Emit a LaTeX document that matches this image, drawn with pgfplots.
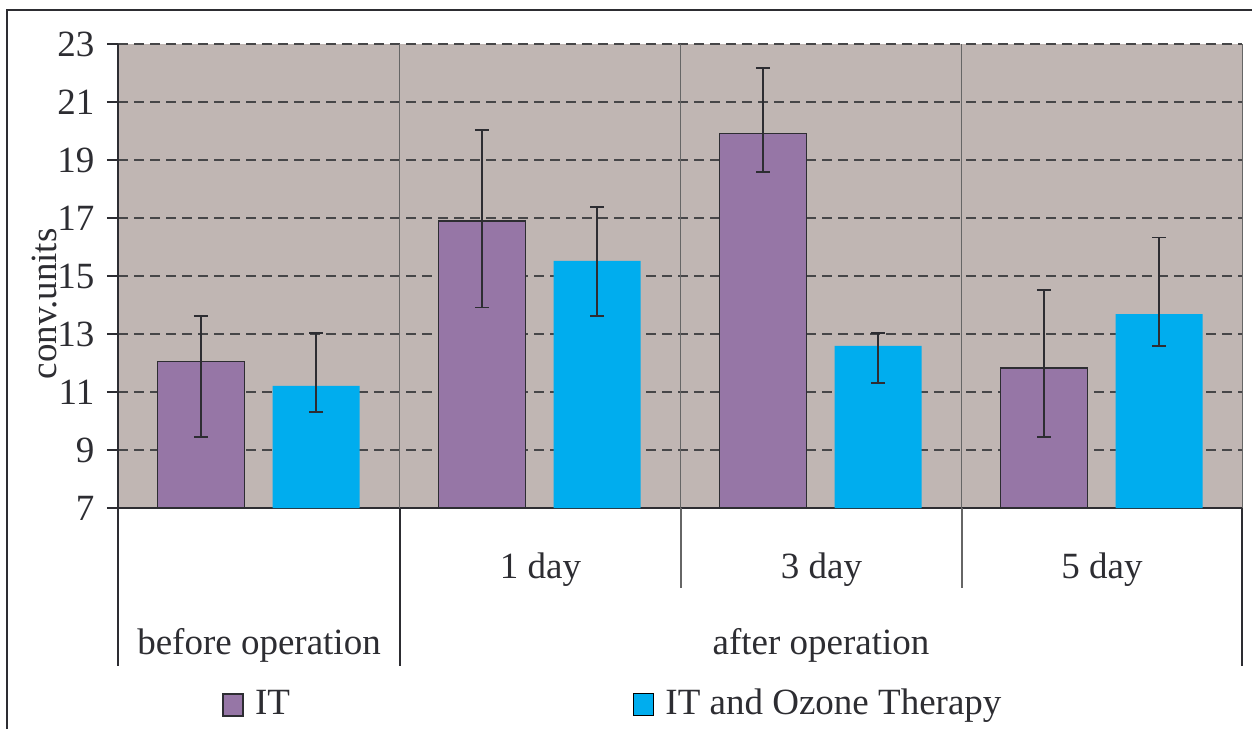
\documentclass[border=0pt]{standalone}
\usepackage{pgfplots}
\pgfplotsset{compat=1.18}
\usepackage{fontspec}
\setmainfont{Liberation Serif}
\definecolor{bgc}{RGB}{192,182,179}
\definecolor{itc}{RGB}{150,118,166}
\definecolor{ozc}{RGB}{0,173,238}
\definecolor{txt}{RGB}{45,45,50}
\definecolor{gridc}{RGB}{70,70,72}
\begin{document}
\begin{tikzpicture}[x=0.5pt,y=-0.5pt]
\fontsize{18.5}{22}\selectfont
\useasboundingbox (0,0) rectangle (1252,729);
\draw[txt,line width=0.8pt] (7,729) -- (7,10) -- (1252,10);
\coordinate (A) at (118,508);
\begin{axis}[
  at={(A)}, anchor=south west,
  width=562pt, height=232pt, scale only axis,
  xmin=-0.5, xmax=3.5, ymin=7, ymax=23,
  axis x line*=bottom, axis y line*=left,
  axis line style={txt, line width=0.9pt},
  axis background/.style={fill=bgc},
  clip=false,
  ytick={7,9,11,13,15,17,19,21,23},
  xtick=\empty,
  tick align=outside,
  major tick length=5.5pt,
  tick style={txt, line width=0.6pt},
  ymajorgrids,
  major grid style={gridc, dashed, dash pattern=on 5pt off 3pt, line width=0.6pt},
  extra x ticks={0.5,1.5,2.5,3.5},
  extra x tick labels={},
  extra x tick style={xmajorgrids, major tick length=0pt, major grid style={solid, gray!80!black, line width=0.5pt}},
  /pgf/number format/assume math mode=true,
  yticklabel style={font=\fontsize{18.5}{22}\selectfont, text=txt},
  ylabel={conv.units},
  every axis y label/.style={at={(rel axis cs:-0.065,0.44)}, rotate=90, anchor=center, font=\fontsize{18.5}{22}\selectfont, text=txt},
  ybar, bar width=0.31,
  error bars/error bar style={txt, line width=0.8pt},
  error bars/error mark options={rotate=90, mark size=3.5pt, line width=0.8pt},
  legend style={at={(rel axis cs:0.0925,-0.424)}, anchor=west, draw=none, fill=none, inner sep=0pt,
    legend columns=2, font=\fontsize{18.5}{22}\selectfont, text=txt,
    /tikz/every even column/.append style={column sep=169.5pt}},
  legend image code/.code={\draw[#1] (0pt,-5.5pt) rectangle (10pt,5.5pt); \path[draw=none,fill=none] (10pt,0) -- (14pt,0);},
]
\addplot[bar shift=-0.205, fill=itc, draw=txt, line width=0.8pt,
  error bars/.cd, y dir=both, y explicit]
  coordinates {
  (0,12.05) += (0,1.58) -= (0,2.60)
  (1,16.90) += (0,3.13) -= (0,2.98)
  (2,19.92) += (0,2.25) -= (0,1.33)
  (3,11.83) += (0,2.69) -= (0,2.38)
  };
\addlegendentry{IT}
\addplot[bar shift=0.205, fill=ozc, draw=none,
  error bars/.cd, y dir=both, y explicit]
  coordinates {
  (0,11.21) += (0,1.82) -= (0,0.89)
  (1,15.52) += (0,1.86) -= (0,1.90)
  (2,12.59) += (0,0.44) -= (0,1.28)
  (3,13.69) += (0,2.64) -= (0,1.10)
  };
\addlegendentry{IT and Ozone Therapy}
\end{axis}
\draw[txt,line width=0.7pt] (118,508) -- (118,666);
\draw[txt,line width=0.7pt] (400,508) -- (400,666);
\draw[txt,line width=0.7pt] (1242,508) -- (1242,666);
\draw[gray!80!black,line width=0.7pt] (681,508) -- (681,588);
\draw[gray!80!black,line width=0.7pt] (962,508) -- (962,588);
\node[text=txt, anchor=base] at (540.5,578) {1 day};
\node[text=txt, anchor=base] at (821.5,578) {3 day};
\node[text=txt, anchor=base] at (1102,578) {5 day};
\node[text=txt, anchor=base] at (259,654) {before operation};
\node[text=txt, anchor=base] at (821,654) {after operation};
\end{tikzpicture}
\end{document}
